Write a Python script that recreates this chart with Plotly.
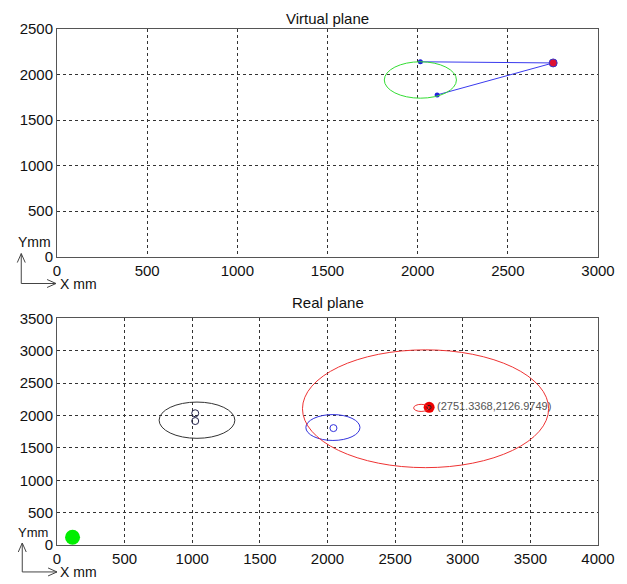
import plotly.graph_objects as go

# ---------------- data ----------------
# Virtual plane
v_circle_center = [2015, 1940]
v_circle_radius = 200
v_line_x = [2015, 2751.3368, 2108]
v_line_y = [2140, 2126.9749, 1776]
v_target_x = [2751.3368]
v_target_y = [2126.9749]

# Real plane
r_black_center = [1035, 1928]
r_black_radius = 280
r_black_pts_x = [1022, 1022]
r_black_pts_y = [2035, 1915]
r_blue_center = [2040, 1815]
r_blue_radius = 200
r_blue_pt_x = [2044]
r_blue_pt_y = [1806]
r_red_big_center = [2725, 2105]
r_red_big_radius = 910
r_red_small_center = [2692, 2118]
r_red_small_radius = 55
r_target_x = [2751.3368]
r_target_y = [2126.9749]
r_target_label = "(2751.3368,2126.9749)"
r_origin_x = [115]
r_origin_y = [120]

x_ticks_top = [0, 500, 1000, 1500, 2000, 2500, 3000]
y_ticks_top = [0, 500, 1000, 1500, 2000, 2500]
x_ticks_bot = [0, 500, 1000, 1500, 2000, 2500, 3000, 3500, 4000]
y_ticks_bot = [0, 500, 1000, 1500, 2000, 2500, 3000, 3500]

# ---------------- layout geometry ----------------
OFF = 8  # page offset of the figure inside the browser window
W, H = 627 - OFF, 584 - OFF
L, R, T, B = 53 - OFF, 598 - OFF, 28 - OFF, 545 - OFF
PW, PH = R - L, B - T


def px(x):
    return (x - OFF - L) / PW


def py(y):
    return (B - (y - OFF)) / PH


top_dom = [py(256), 1.0]
bot_dom = [0.0, py(318)]

FONT = "Liberation Sans, Arial, sans-serif"

fig = go.Figure()

# top traces
fig.add_trace(go.Scatter(x=v_line_x, y=v_line_y, mode="lines+markers",
                         line=dict(color="#3a3aee", width=1),
                         marker=dict(color="#2222dd", size=5),
                         xaxis="x", yaxis="y", showlegend=False))
fig.add_trace(go.Scatter(x=v_target_x, y=v_target_y, mode="markers",
                         marker=dict(color="#dd1133", size=8,
                                     line=dict(color="#3333cc", width=1)),
                         xaxis="x", yaxis="y", showlegend=False))

# bottom traces
fig.add_trace(go.Scatter(x=r_black_pts_x, y=r_black_pts_y, mode="markers",
                         marker=dict(symbol="circle-open", color="#22224a", size=7,
                                     line=dict(width=1)),
                         xaxis="x2", yaxis="y2", showlegend=False))
fig.add_trace(go.Scatter(x=r_blue_pt_x, y=r_blue_pt_y, mode="markers",
                         marker=dict(symbol="circle-open", color="#3333dd", size=7,
                                     line=dict(width=1)),
                         xaxis="x2", yaxis="y2", showlegend=False))
fig.add_trace(go.Scatter(x=r_target_x, y=r_target_y, mode="markers+text",
                         marker=dict(color="#ee0000", size=11),
                         text=[r_target_label], textposition="middle right",
                         textfont=dict(family=FONT, size=11, color="#555555"),
                         xaxis="x2", yaxis="y2", showlegend=False))
fig.add_trace(go.Scatter(x=r_target_x, y=r_target_y, mode="markers",
                         marker=dict(symbol="circle-open", color="#222222", size=4,
                                     line=dict(width=1)),
                         xaxis="x2", yaxis="y2", showlegend=False))
fig.add_trace(go.Scatter(x=r_origin_x, y=r_origin_y, mode="markers",
                         marker=dict(color="#00ee00", size=15),
                         xaxis="x2", yaxis="y2", showlegend=False))

shapes = []


def circle(xref, yref, c, r, color):
    shapes.append(dict(type="circle", xref=xref, yref=yref,
                       x0=c[0] - r, x1=c[0] + r, y0=c[1] - r, y1=c[1] + r,
                       line=dict(color=color, width=1), layer="above"))


circle("x", "y", v_circle_center, v_circle_radius, "#33dd33")
circle("x2", "y2", r_black_center, r_black_radius, "#333333")
circle("x2", "y2", r_blue_center, r_blue_radius, "#3333dd")
circle("x2", "y2", r_red_big_center, r_red_big_radius, "#ee3333")
circle("x2", "y2", r_red_small_center, r_red_small_radius, "#ee3333")


def seg(x0, y0, x1, y1):
    shapes.append(dict(type="line", xref="paper", yref="paper",
                       x0=px(x0), y0=py(y0), x1=px(x1), y1=py(y1),
                       line=dict(color="#444444", width=1)))


def axis_arrows(ax, ay_top, ay_bot, ax_right):
    seg(ax, ay_bot, ax, ay_top)
    seg(ax, ay_top, ax - 4, ay_top + 9)
    seg(ax, ay_top, ax + 4, ay_top + 9)
    seg(ax, ay_bot, ax_right, ay_bot)
    seg(ax_right, ay_bot, ax_right - 9, ay_bot - 4)
    seg(ax_right, ay_bot, ax_right - 9, ay_bot + 4)


axis_arrows(17, 253, 283, 52)
axis_arrows(18, 543, 572, 53)

annotations = []


def text(x, y, s, size=14, anchor="left"):
    annotations.append(dict(text=s, xref="paper", yref="paper", x=px(x), y=py(y),
                            xanchor=anchor, yanchor="middle", showarrow=False,
                            font=dict(family=FONT, size=size, color="#111111")))


text(326, 17, "Virtual plane", 15, "center")
text(326, 302, "Real plane", 15, "center")
text(12, 241, "Ymm")
text(54, 283, "X mm")
text(12, 532, "Ymm", 13)
text(54, 572, "X mm")

axis_common = dict(showgrid=True, gridcolor="#333333", griddash="3px,3px", gridwidth=1,
                   zeroline=False, showline=True, mirror=True, linecolor="#555555",
                   linewidth=1, ticks="", tickfont=dict(family=FONT, size=15, color="#111111"),
                   fixedrange=True)

fig.update_layout(
    width=W, height=H,
    margin=dict(l=L, r=W - R, t=T, b=H - B),
    paper_bgcolor="white", plot_bgcolor="white",
    xaxis=dict(domain=[0, 1], anchor="y", range=[0, 3000], tickvals=x_ticks_top, **axis_common),
    yaxis=dict(domain=top_dom, anchor="x", range=[0, 2500], tickvals=y_ticks_top, **axis_common),
    xaxis2=dict(domain=[0, 1], anchor="y2", range=[0, 4000], tickvals=x_ticks_bot, **axis_common),
    yaxis2=dict(domain=bot_dom, anchor="x2", range=[0, 3500], tickvals=y_ticks_bot, **axis_common),
    shapes=shapes, annotations=annotations, showlegend=False,
)

fig.write_html("out.html")
